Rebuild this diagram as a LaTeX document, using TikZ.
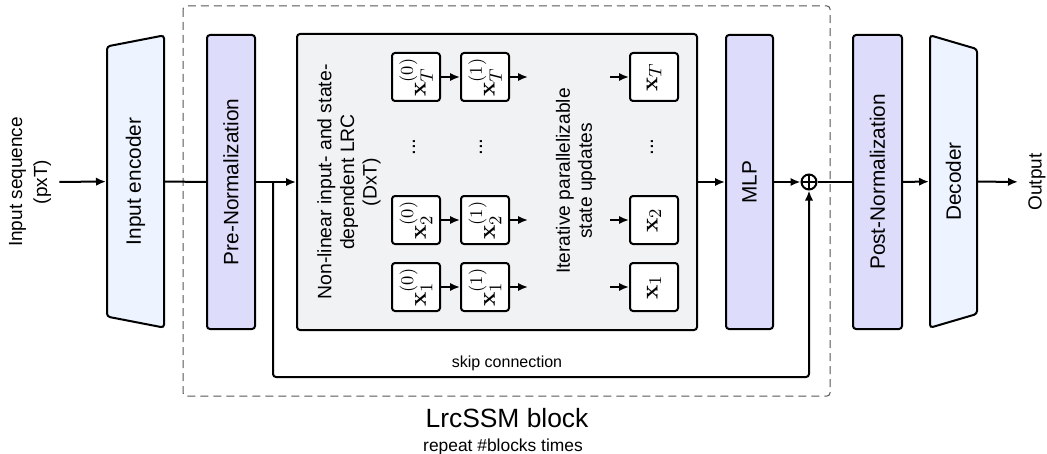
\documentclass[tikz,border=0pt]{standalone}
\usepackage[no-math]{fontspec}
\setmainfont{Liberation Sans}
\usetikzlibrary{arrows.meta,shapes.geometric,positioning}
\definecolor{codefill}{HTML}{EDF4FF}
\definecolor{normfill}{HTML}{DDDDFB}
\definecolor{lrcfill}{HTML}{F1F2F4}
\definecolor{framegray}{HTML}{555555}
\newcommand\boxfont{\fontsize{10.4}{12}\selectfont}
\newcommand\innerfont{\fontsize{9.7}{11.3}\selectfont}
\newcommand\statefont{\fontsize{12.5}{14}\selectfont}
\newcommand\upright[1]{\rotatebox{90}{#1}}
\tikzset{
  line/.style={line width=1pt},
  arr/.style={line width=1pt, -{Latex[length=5pt,width=4.2pt]}},
  frame/.style={draw=framegray, line width=0.5pt, dash pattern=on 4pt off 2.5pt, rounded corners=1.5pt},
  norm/.style={draw, line width=1pt, fill=normfill, rounded corners=1.5pt, rotate=90,
    minimum width=147pt, minimum height=24pt, inner sep=0pt, font=\boxfont},
  coder/.style={trapezium, trapezium stretches=true, draw, line width=1pt, fill=codefill,
    rounded corners=1.5pt, rotate=90, minimum width=146.5pt, inner sep=0pt, font=\boxfont},
  lrcbox/.style={draw, line width=1pt, fill=lrcfill, rounded corners=1.5pt,
    minimum width=200pt, minimum height=148pt},
  statebox/.style={draw, line width=1pt, fill=white, rounded corners=1.5pt,
    minimum size=24pt, inner sep=0pt, font=\statefont},
  inlabel/.style={rotate=90, align=center, font=\innerfont, inner sep=2pt},
  dots/.style={rotate=90, font=\boxfont, inner sep=0pt},
  plus/.style={circle, draw, line width=1pt, minimum size=7.5pt, inner sep=0pt,
    path picture={\draw[line width=1pt]
      (path picture bounding box.north) -- (path picture bounding box.south)
      (path picture bounding box.west) -- (path picture bounding box.east);}}
}
\begin{document}
\begin{tikzpicture}[x=0.5pt, y=-0.5pt]
\useasboundingbox (0,0) rectangle (1047,454);
% block frame
\draw[frame] (183,6) rectangle (830,396);
% input side
\node[inlabel, font=\fontsize{9.5}{12.5}\selectfont, inner sep=4pt] (inseq) at (30,182) {Input sequence\\(pxT)};
\node[coder, trapezium angle=75, minimum height=28.5pt] (enc) at (135.5,181.5) {Input encoder};
\node[norm] (prenorm) at (231,182) {Pre-Normalization};
% LRC block
\node[lrcbox] (lrc) at (497,182) {};
\node[inlabel] (lrctext) at (349,182) {Non-linear input- and state-\\dependent LRC\\(DxT)};
\node[inlabel, font=\fontsize{9.6}{11}\selectfont] (itertext) at (576,181) {Iterative parallelizable\\state updates};
\foreach \i/\y in {1/287, 2/220, T/77} {
  \node[statebox] (xa\i) at (416,\y) {\upright{$\mathbf{x}^{(0)}_{\i}$}};
  \node[statebox, right=9.5pt of xa\i] (xb\i) {\upright{$\mathbf{x}^{(1)}_{\i}$}};
  \node[statebox] (xc\i) at (654,\y) {\upright{$\mathbf{x}_{\i}$}};
  \coordinate[right=9pt of xb\i.east] (xbo\i);
  \coordinate[left=9.5pt of xc\i.west] (xci\i);
  \draw[arr] (xa\i) -- (xb\i);
  \draw[arr] (xb\i) -- (xbo\i);
  \draw[arr] (xci\i) -- (xc\i);
}
\node[dots] (dotsa) at (414,147) {...};
\node[dots] (dotsb) at (481,147) {...};
\node[dots] (dotsc) at (652,147) {...};
% output side
\node[norm, minimum height=23.5pt] (mlp) at (749.5,182) {MLP};
\node[plus] (plus) at (809,182) {};
\node[norm, minimum height=24.5pt] (postnorm) at (877.5,182) {Post-Normalization};
\node[coder, trapezium angle=105, minimum height=23.5pt] (dec) at (953.5,181.5) {Decoder};
\node[inlabel, font=\fontsize{9.5}{12}\selectfont, inner sep=5pt] (outp) at (1037,182) {Output};
% connectors
\draw[arr] (inseq) -- (enc);
\draw[line] (enc) -- (prenorm);
\draw[arr] (prenorm) -- (lrc);
\draw[arr] (lrc) -- (mlp);
\draw[arr] (mlp) -- (plus);
\draw[line] (plus) -- (postnorm);
\draw[arr] (postnorm) -- (dec);
\draw[arr] (dec) -- (outp);
% skip connection
\coordinate (branch) at (273,182);
\coordinate (skipbot) at (273,377);
\draw[arr, rounded corners=1.5pt] (branch) -- (skipbot) -| (plus);
\node[font=\fontsize{8}{10}\selectfont] (skiplbl) at (507,363) {skip connection};
% captions
\node[font=\fontsize{13.2}{16}\selectfont] (blocklbl) at (507,418) {LrcSSM block};
\node[font=\fontsize{8.7}{10}\selectfont] (replbl) at (503,447) {repeat \#blocks times};
\end{tikzpicture}
\end{document}
